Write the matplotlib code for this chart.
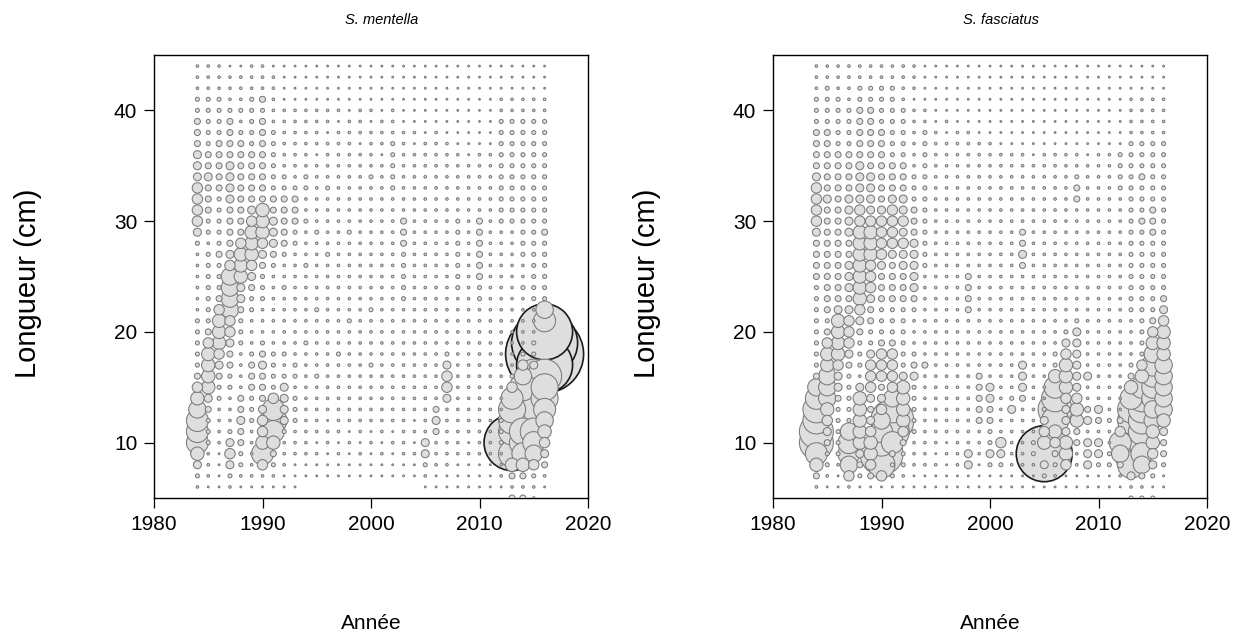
import matplotlib

matplotlib.use("Agg")

import matplotlib.pyplot as plt

plt.rcParams["font.family"] = ["Liberation Sans", "DejaVu Sans"]

YEARS = list(range(1984, 2017))
LENGTHS = list(range(5, 45))

# size codes: "0" = nothing, then "." smallest ... "E" largest
SIZE_CODES = ".123456789ABCDE"
RADIUS_PX = [0.9, 1.3, 2.0, 3.0, 4.0, 5.2, 6.7, 8.7, 11.0, 13.5, 17.0, 21.5, 28.0, 33.0, 39.0]

# one string per year, lengths 5 -> 44 (groups of 10 cm separated by spaces)
MENTELLA = [
    "0124688876 5322222111 1112455554 4433322111",  # 1984
    "0.11122234 6666532222 2221223334 3322222111",
    "0....11112 2345666532 2232222233 3332222111",
    "0124542111 2233455777 7543333444 433332111.",
    "0.12233433 1111222344 6665333333 333212111.",
    "0.11111222 3332111223 4566654333 3322222111",  # 1989
    "0.15865543 3343211122 2345666333 3333323111",
    "0.12368985 2222111111 1234443322 222211111.",
    "0..1112444 4212111112 1123333322 111111....",
    "0...111222 1221111111 1112233321 111111....",
    "00..111111 1111211111 1211121122 111111....",  # 1994
    "00..1.1111 1211111211 1111211111 1.1111....",
    "00...11.11 1111111111 1121111121 111.11....",
    "00..1.1111 1112111111 1111111111 1111.1....",
    "00...1.111 1111112111 1111211111 11111.....",
    "00..1.1111 1111111111 1111111111 11.111....",  # 1999
    "00...1.111 1121111211 1111111112 1111.1....",
    "00..1.1111 1111111111 1111111111 1.111.....",
    "00...1.111 1111111111 1111111122 222111....",
    "00..111111 1111111122 2223331111 1111......",
    "00..1.1.11 1111111111 1111111111 11.1......",  # 2004
    "0.12441111 1111111111 1111111111 111.......",
    "0..1113431 1111111111 1111111111 1111......",
    "0..1111114 5542111111 1111111111 111.......",
    "0...111111 1111111112 2222221111 11........",
    "0...1.1111 1111111111 1111111111 1.........",  # 2009
    "0...111111 1111111122 3333331111 11........",
    "0...111111 1111111111 1111111111 11........",
    "0.11122211 1111111111 1111122222 2222211...",
    "31369C9998 5211111111 1111122222 2222211...",
    "3136899AAA 9752111112 1122222222 2222211...",  # 2014
    "1125789AAB BA42211122 2222222222 2222211...",
    "0.13456789 9ACEDC8722 2222322222 2222211...",
]

FASCIATUS = [
    "01368AA998 7322222222 3333455554 3333222111",  # 1984
    "0.12234567 7766532333 3333333433 3333222211",
    "0..1222223 4456666433 3333333333 3322222111",
    "0157887222 2234555434 4433444433 3322221111",
    "0.23466666 4122234566 6666655444 4333332211",
    "0.35665434 5554223345 5566654444 3333332211",  # 1989
    "0.59B98754 3555322233 3455554333 3333222211",
    "0.2238AB97 5555322233 3345555433 3222222211",
    "0.12235666 6422222233 3445454433 3222221111",
    "0..1112222 2432111234 4444333222 111111.111",
    "0..1111111 1131111111 1222222222 222211....",  # 1994
    "0..1.11111 1111111111 1111111111 1111......",
    "0...1.1111 1111111111 1111111111 111.1.....",
    "0..1111111 1111111111 1111111111 1111......",
    "0..4411111 1111111333 3111111111 1111......",
    "0...111333 3311111111 1111111111 111.......",  # 1999
    "0..2422334 4111111111 1111111111 111.......",
    "0..2451111 1111111111 1111111111 11........",
    "0..1111142 1111111111 1111111111 11........",
    "0..1111113 4441111111 1343311111 11........",
    "0..1221111 1111111111 1111111111 1.........",  # 2004
    "0.24C65421 1111111111 1111111111 11........",
    "0.123569A9 8622111111 1111111111 11........",
    "0..5664445 6665421111 1111111111 11........",
    "0..1133665 4444442111 1111111332 11........",
    "0..4441431 1411111111 1111111111 1.........",  # 2009
    "0..2441341 1111111111 1111111111 11........",
    "0..2211211 1111111111 1111111111 11........",
    "0.13785311 1111111111 1111111122 22........",
    "2149AA9998 6321111222 2222222222 2221111...",
    "2137899999 8652222222 2222232223 2221111...",  # 2014
    "2.24566778 8887653222 2222333222 2221111...",
    "0..2334677 7776665432 2222222222 2221111...",
]

TITLES = ["S. mentella", "S. fasciatus"]
FILL = "#dedede"


def draw_panel(ax, columns, title):
    pts = []
    for year, col in zip(YEARS, columns):
        codes = col.replace(" ", "")
        for length, code in zip(LENGTHS, codes):
            if code == "0":
                continue
            pts.append((RADIUS_PX[SIZE_CODES.index(code)], year, length))
    # largest first so that smaller bubbles stay visible on top
    pts.sort(key=lambda p: -p[0])
    r = [p[0] for p in pts]
    sizes = [(2 * v * 0.72) ** 2 for v in r]
    edges = ["#1a1a1a" if v >= 25 else "#7a7a7a" for v in r]
    widths = [1.2 if v >= 25 else 0.75 for v in r]
    ax.scatter([p[1] for p in pts], [p[2] for p in pts], s=sizes, c=FILL,
               edgecolors=edges, linewidths=widths, zorder=3)
    ax.set_xlim(1980, 2020)
    ax.set_ylim(5, 45)
    ax.set_xticks([1980, 1990, 2000, 2010, 2020])
    ax.set_yticks([10, 20, 30, 40])
    ax.tick_params(direction="out", length=7, width=0.9, labelsize=15, pad=5)
    for sp in ax.spines.values():
        sp.set_linewidth(1.0)
    ax.set_title(title, style="italic", fontsize=10.5, pad=22, x=0.525)
    ax.set_xlabel("Année", fontsize=15)
    ax.set_ylabel("Longueur (cm)", fontsize=21)
    ax.xaxis.set_label_coords(0.5, -0.262)
    ax.yaxis.set_label_coords(-0.258, 0.485)


def main():
    fig = plt.figure(figsize=(12.53, 6.44), dpi=100)
    lefts = [154 / 1253, 773 / 1253]
    for left, cols, title in zip(lefts, [MENTELLA, FASCIATUS], TITLES):
        ax = fig.add_axes([left, 1 - 498 / 644, 434 / 1253, 443 / 644])
        draw_panel(ax, cols, title)
    fig.savefig("out.png", dpi=100)
    plt.close(fig)


if __name__ == "__main__":
    main()
